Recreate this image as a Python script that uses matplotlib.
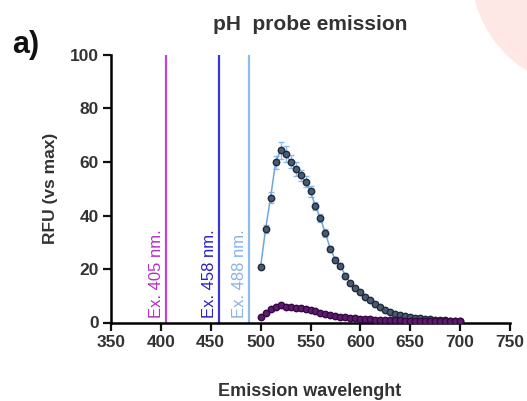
import numpy as np
import matplotlib
matplotlib.use("Agg")
import matplotlib.pyplot as plt
from matplotlib.patches import Ellipse

plt.rcParams['font.family'] = ['Liberation Sans', 'DejaVu Sans']

# emission wavelengths (nm)
wl = np.arange(500, 705, 5)

# 488 nm excitation (blue series)
rfu_488 = [20.9, 35.0, 46.7, 59.9, 64.3, 63.0, 60.1, 57.4, 55.0, 52.6,
           49.0, 43.4, 38.9, 33.3, 27.4, 23.4, 21.3, 17.4, 14.9, 12.8,
           11.3, 9.7, 8.3, 6.9, 5.7, 4.7, 3.8, 3.2, 2.8, 2.4,
           2.1, 1.8, 1.6, 1.4, 1.2, 1.0, 0.9, 0.8, 0.7, 0.6, 0.5]
err_488 = [1.0, 1.5, 2.0, 2.5, 3.0, 3.0, 2.5, 2.5, 2.0, 2.0,
           2.0, 1.5, 1.5, 1.5, 1.2, 1.0, 1.0, 1.0, 0.8, 0.8,
           0.7, 0.6, 0.5, 0.5, 0.5, 0.4, 0.4, 0.3, 0.3, 0.3,
           0.3, 0.2, 0.2, 0.2, 0.2, 0.2, 0.2, 0.2, 0.2, 0.2, 0.2]

# 405 / 458 nm excitation (purple series)
rfu_405 = [2.2, 3.4, 4.9, 5.9, 6.4, 5.9, 5.7, 5.5, 5.4, 5.2,
           4.7, 4.2, 3.7, 3.3, 2.8, 2.4, 2.2, 2.0, 1.7, 1.5,
           1.4, 1.3, 1.2, 1.1, 1.0, 0.9, 0.9, 0.8, 0.8, 0.7,
           0.7, 0.6, 0.6, 0.6, 0.5, 0.5, 0.5, 0.5, 0.4, 0.4, 0.4]

# excitation lines
ex_wl = [405, 458, 488]
ex_labels = ["Ex. 405 nm.", "Ex. 458 nm.", "Ex. 488 nm."]
ex_line_col = ["#bf45d8", "#3a36d6", "#8dbbea"]
ex_text_col = ["#b52fc6", "#2a22c4", "#86b4e6"]

fig = plt.figure(figsize=(5.27, 4.01), dpi=100)

# pink decoration top-right
fig.add_artist(Ellipse((590/527, 1+30/401), 2*119/527, 2*119/401,
                       transform=fig.transFigure, color="#fde8e5", lw=0, zorder=0))

ax = fig.add_axes([111/527, 1-322.5/401, 399/527, 267.5/401])
ax.set_facecolor("none")

for w, lab, lc, tc in zip(ex_wl, ex_labels, ex_line_col, ex_text_col):
    ax.axvline(w, color=lc, lw=1.6, zorder=2)
    ax.text(w-9.5, 1.8, lab, rotation=90, color=tc, fontsize=12,
            ha="center", va="bottom", zorder=3)

ax.errorbar(wl, rfu_488, yerr=err_488, color="#6fa6e0", lw=1.1,
            ecolor="#8ebdec", elinewidth=1.0, capsize=2, capthick=0.8,
            marker="o", ms=4.6, mfc="#4a5b72", mec="#1f2a3a", mew=1.0, zorder=4)
ax.plot(wl, rfu_405, color="#7a2a90", lw=1.1,
        marker="o", ms=4.6, mfc="#5c1c72", mec="#35093f", mew=1.0, zorder=5)

ax.set_xlim(350, 750)
ax.set_ylim(0, 100)
ax.set_xticks(np.arange(350, 751, 50))
ax.set_yticks(np.arange(0, 101, 20))
ax.spines["top"].set_visible(False)
ax.spines["right"].set_visible(False)
for s in ["left", "bottom"]:
    ax.spines[s].set_linewidth(1.8)
ax.tick_params(width=1.6, length=6, labelsize=12.5, colors="#111111", pad=3)
for t in ax.get_xticklabels() + ax.get_yticklabels():
    t.set_color("#333333")
    t.set_fontweight("bold")

ax.set_ylabel("RFU (vs max)", fontsize=12.5, fontweight="bold",
              color="#333333", labelpad=8)

fig.text(310/527, 1-392/401, "Emission wavelenght", fontsize=13,
         fontweight="bold", color="#333333", ha="center", va="center")
fig.text(310/527, 1-25/401, "pH  probe emission", fontsize=15,
         fontweight="bold", color="#333333", ha="center", va="center")
fig.text(12/527, 1-45/401, "a)", fontsize=22, fontweight="bold",
         color="#111111", ha="left", va="center")

fig.savefig("out.png", dpi=100)
